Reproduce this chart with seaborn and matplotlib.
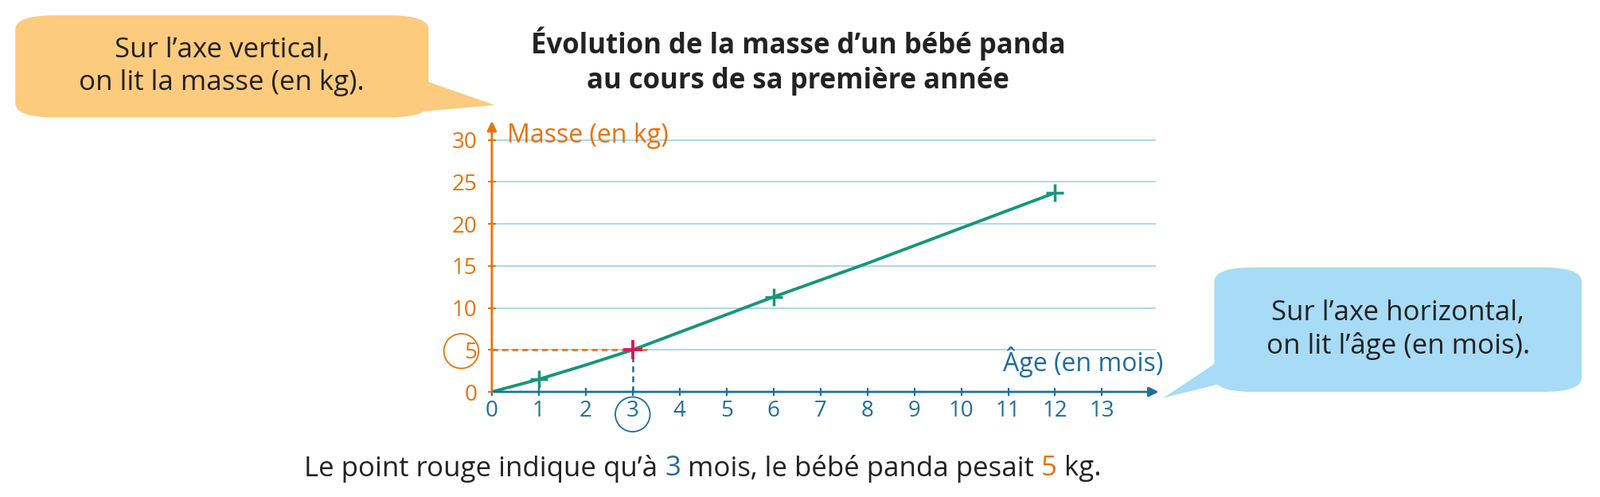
import matplotlib
matplotlib.use("Agg")
import matplotlib.pyplot as plt
import seaborn as sns
import pandas as pd
from matplotlib.patches import FancyBboxPatch, Polygon, Ellipse

ages = [0, 1, 2, 3, 4, 5, 6, 8, 10, 12]
masses = [0, 1.5, 3.2, 5, 7.1, 9.2, 11.3, 15.3, 19.5, 23.7]
mark_ages = [1, 6, 12]
mark_masses = [1.5, 11.3, 23.7]
red_age, red_mass = 3, 5
x_ticks = list(range(0, 14))
y_ticks = [0, 5, 10, 15, 20, 25, 30]

ORANGE = "#E8730C"; BLUE = "#1F6E9C"; GREEN = "#16967A"; RED = "#D6195B"
GRID = "#A6D6E8"
plt.rcParams["font.family"] = "Open Sans"

W, H = 1568, 487
fig = plt.figure(figsize=(20.1, 6.24), dpi=100)
x0 = 482 / W; ux = 46.0 / W
y0 = 1 - 384 / H; uy = (384 - 137) / 30 / H
xmax, ymax = (1133 - 482) / 46.0, 30.4
ax = fig.add_axes([x0, y0, xmax * ux, ymax * uy])
ax.set_xlim(0, xmax); ax.set_ylim(0, ymax)
for s in ax.spines.values():
    s.set_visible(False)
for yv in y_ticks[1:]:
    ax.axhline(yv, color=GRID, lw=1.3, zorder=0)

df = pd.DataFrame({"age": ages, "mass": masses})
sns.lineplot(data=df, x="age", y="mass", color=GREEN, lw=2.8, ax=ax, zorder=3)
ax.scatter(mark_ages, mark_masses, marker="+", s=260, color=GREEN, linewidths=2.5, zorder=4)
ax.plot([0, red_age + 0.35], [red_mass, red_mass], ls=(0, (3, 2)), color=ORANGE, lw=1.8, zorder=2)
ax.plot([red_age, red_age], [0, red_mass + 0.3], ls=(0, (3, 2)), color=BLUE, lw=1.8, zorder=2)
ax.scatter([red_age], [red_mass], marker="+", s=300, color=RED, linewidths=2.8, zorder=5)

ax.annotate("", xy=(xmax + 0.1, 0), xytext=(0, 0), annotation_clip=False,
            arrowprops=dict(arrowstyle="-|>", color=BLUE, lw=2, mutation_scale=18))
ax.annotate("", xy=(0, 32.5), xytext=(0, 0), annotation_clip=False,
            arrowprops=dict(arrowstyle="-|>", color=ORANGE, lw=2, mutation_scale=18))

ax.set_xticks(x_ticks); ax.set_yticks(y_ticks)
ax.set_xticklabels([str(v) for v in x_ticks], fontsize=20)
ax.set_yticklabels([str(v) for v in y_ticks], fontsize=20)
ax.tick_params(axis="x", colors=BLUE, length=7, width=1.5, direction="inout", pad=4)
ax.tick_params(axis="y", colors=ORANGE, length=7, width=1.5, direction="inout", pad=10)
ax.set_xlabel(""); ax.set_ylabel("")

fig.patches.append(Ellipse((x0 + 3 * ux, 1 - 406 / H), 34 / W, 34 / H, transform=fig.transFigure,
                           fill=False, ec=BLUE, lw=1.3))
fig.patches.append(Ellipse((452 / W, 1 - 344 / H), 34 / W, 34 / H, transform=fig.transFigure,
                           fill=False, ec=ORANGE, lw=1.3))

fig.text(497 / W, 1 - 133 / H, "Masse (en kg)", color=ORANGE, fontsize=23, va="center")
fig.text(1140 / W, 1 - 355 / H, "Âge (en mois)", color=BLUE, fontsize=23, va="center", ha="right")
fig.text(782 / W, 1 - 60 / H, "Évolution de la masse d’un bébé panda\nau cours de sa première année",
         ha="center", va="center", fontsize=25, fontweight="bold", color="#222222", linespacing=1.3)

parts = [("Le point rouge indique qu’à ", "#222222"), ("3", BLUE), (" mois, le bébé panda pesait ", "#222222"),
         ("5", ORANGE), (" kg.", "#222222")]
fig.canvas.draw()
r = fig.canvas.get_renderer()
xs = 298 / W
for txt, col in parts:
    t = fig.text(xs, 1 - 459 / H, txt, color=col, fontsize=25, va="center")
    bb = t.get_window_extent(renderer=r)
    xs += bb.width / fig.bbox.width

def bubble(x, y, w, h, fc, text, tail):
    b = FancyBboxPatch((x / W, 1 - (y + h) / H), w / W, h / H, boxstyle="round,pad=0,rounding_size=0.025",
                       transform=fig.transFigure, fc=fc, ec="none", mutation_aspect=W / H * 0.35)
    fig.patches.append(b)
    fig.patches.append(Polygon([(px / W, 1 - py / H) for px, py in tail], closed=True,
                               transform=fig.transFigure, fc=fc, ec="none"))
    fig.text((x + w / 2) / W, 1 - (y + h / 2) / H, text, ha="center", va="center", fontsize=25,
             color="#222222", linespacing=1.25)

bubble(15, 15, 405, 100, "#FCCB7E", "Sur l’axe vertical,\non lit la masse (en kg).",
       [(405, 75), (405, 110), (485, 103)])
bubble(1190, 262, 360, 122, "#A8DBF5", "Sur l’axe horizontal,\non lit l’âge (en mois).",
       [(1200, 350), (1200, 375), (1140, 390)])

fig.savefig("out.png", dpi=100)
